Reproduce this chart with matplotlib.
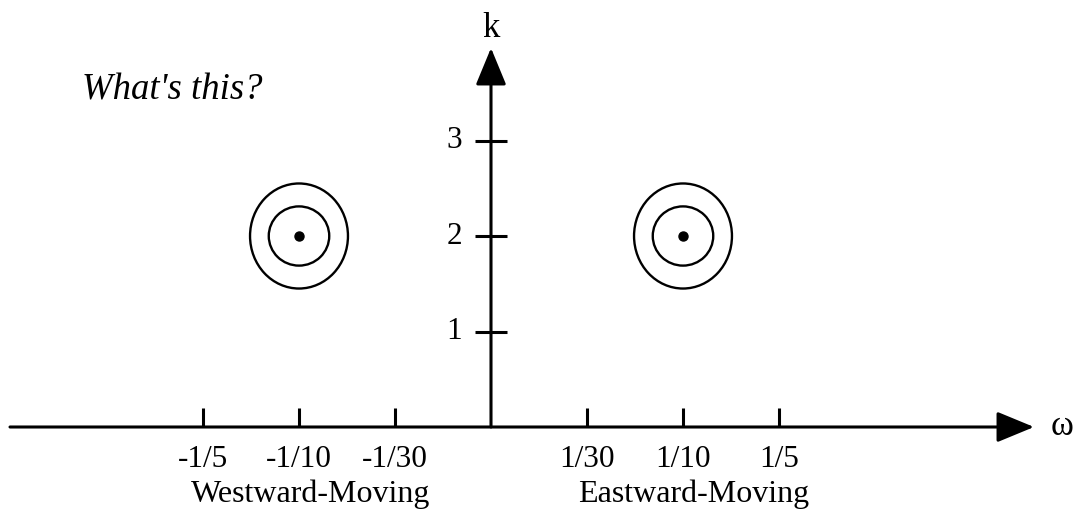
import matplotlib.pyplot as plt
from matplotlib.patches import Ellipse

plt.rcParams['font.family'] = ['Liberation Serif', 'DejaVu Serif']

# frequency ticks along the omega axis (evenly spaced, not to scale)
omega_labels = ["-1/5", "-1/10", "-1/30", "1/30", "1/10", "1/5"]
omega_pos = [-3, -2, -1, 1, 2, 3]

# wavenumber ticks
k_ticks = [1, 2, 3]
k_labels = ["1", "2", "3"]

# spectral peaks: (omega position, k), contour sizes (width, height)
peak_omega = [-2, 2]
peak_k = [2, 2]
contour_sizes = [(0.63, 0.62), (1.02, 1.10)]

group_names = ["Westward-Moving", "Eastward-Moving"]
group_pos = [-2, 2]

# pixel scale -> data limits, axis origin at (491, 427) px
px_x, px_y = 96.0, 95.5
fig = plt.figure(figsize=(10.76, 5.12), dpi=100)
ax = fig.add_axes([0, 0, 1, 1])
ax.set_xlim(-491 / px_x, (1076 - 491) / px_x)
ax.set_ylim((427 - 512) / px_y, 427 / px_y)
ax.axis('off')

lw_axis = 2.2
head = dict(arrowstyle="-|>,head_length=2.3,head_width=0.95", mutation_scale=10,
            lw=lw_axis, color="black", shrinkA=0, shrinkB=0)

# omega axis
ax.annotate("", xy=((1034 - 491) / px_x, 0), xytext=((10 - 491) / px_x, 0),
            arrowprops=head)
# k axis
ax.annotate("", xy=(0, (427 - 48) / px_y), xytext=(0, 0), arrowprops=head)

ax.annotate("ω", xy=((1034 - 491) / px_x, 0), xytext=(12, -6), textcoords="offset points",
            ha="left", va="baseline", fontsize=25)
ax.annotate("k", xy=(0, (427 - 48) / px_y), xytext=(0, 8), textcoords="offset points",
            ha="center", va="baseline", fontsize=25)

# omega ticks (pointing up) and labels
for x, lab in zip(omega_pos, omega_labels):
    ax.plot([x, x], [0, 19 / px_y], color="black", lw=lw_axis, solid_capstyle="butt")
    ax.annotate(lab, xy=(x, 0), xytext=(0, -28.8), textcoords="offset points",
                ha="center", va="baseline", fontsize=22.5)

# k ticks (crossing) and labels
for y, lab in zip(k_ticks, k_labels):
    ax.plot([-16 / px_x, 16 / px_x], [y, y], color="black", lw=lw_axis, solid_capstyle="butt")
    ax.annotate(lab, xy=(0, y), xytext=(-21, 0), textcoords="offset points",
                ha="right", va="center", fontsize=22.5)

# concentric contours around each peak
for x, y in zip(peak_omega, peak_k):
    for w, h in contour_sizes:
        ax.add_patch(Ellipse((x, y), w, h, fill=False, lw=1.7, ec="black"))
    ax.plot(x, y, "o", color="black", ms=6.5)

for x, name in zip(group_pos, group_names):
    ax.annotate(name, xy=(x, 0), xytext=(8, -54), textcoords="offset points",
                ha="center", va="baseline", fontsize=23)

fig.text(82 / 1076, 1 - 100 / 512, "What's this?", style="italic", fontsize=26.5,
         ha="left", va="baseline")

fig.savefig("out.png", dpi=100)
